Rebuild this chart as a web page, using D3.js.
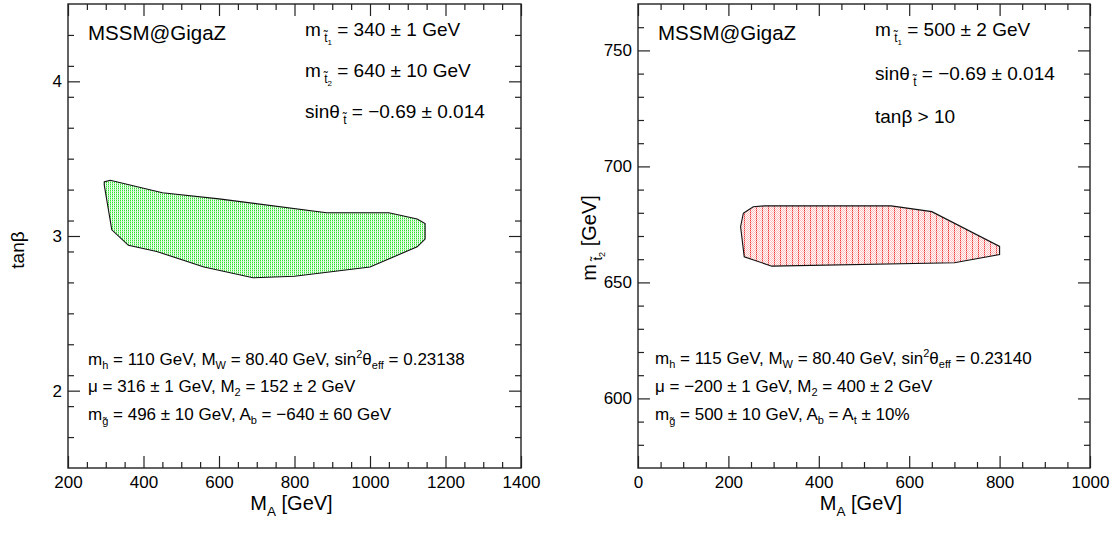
<!DOCTYPE html>
<html>
<head>
<meta charset="utf-8">
<script src="https://cdn.jsdelivr.net/npm/d3@7"></script>
<style>
  html, body { margin: 0; padding: 0; background: #fff; }
  svg { display: block; }
  text { font-family: "Liberation Sans", Arial, Helvetica, sans-serif; fill: #000; }
</style>
</head>
<body>
<svg id="chart" width="1118" height="533"></svg>
<script>
// ---------------- data ----------------
// Left panel: allowed region in (M_A, tan beta)
const greenMA   = [296, 312, 450, 600, 885, 1050, 1125, 1146, 1146, 1125, 1000, 800, 690, 560, 435, 360, 316, 296];
const greenTanb = [3.35, 3.36, 3.28, 3.24, 3.15, 3.15, 3.11, 3.08, 2.98, 2.93, 2.80, 2.74, 2.73, 2.80, 2.90, 2.94, 3.04, 3.33];
// Right panel: allowed region in (M_A, m_stop2)
const redMA   = [233, 255, 281, 560, 650, 800, 800, 700, 296, 235, 227];
const redMst2 = [679.8, 682.6, 683, 683, 680.5, 665.5, 662, 658.5, 657, 661, 674];

const leftXDomain = [200, 1400];
const leftYDomain = [1.5, 4.5];
const leftXMajor = [200, 400, 600, 800, 1000, 1200, 1400];
const leftYMajor = [2, 3, 4];
const rightXDomain = [0, 1000];
const rightYDomain = [570, 770];
const rightXMajor = [0, 200, 400, 600, 800, 1000];
const rightYMajor = [600, 650, 700, 750];

// ---------------- layout ----------------
const svg = d3.select("#chart");
const defs = svg.append("defs");

// green dotted fill
const pg = defs.append("pattern").attr("id", "greenFill").attr("patternUnits", "userSpaceOnUse")
  .attr("width", 2).attr("height", 2);
pg.append("rect").attr("width", 2).attr("height", 2).attr("fill", "#ffffff");
pg.append("rect").attr("x", 0).attr("y", 0).attr("width", 1).attr("height", 1).attr("fill", "#30e030");
pg.append("rect").attr("x", 0).attr("y", 1).attr("width", 1).attr("height", 1).attr("fill", "#a0f4a0");
pg.append("rect").attr("x", 1).attr("y", 1).attr("width", 1).attr("height", 1).attr("fill", "#e0fce0");

// red dotted / striped fill
const pr = defs.append("pattern").attr("id", "redFill").attr("patternUnits", "userSpaceOnUse")
  .attr("width", 6).attr("height", 2);
pr.append("rect").attr("width", 6).attr("height", 2).attr("fill", "#ffffff");
pr.append("rect").attr("x", 0).attr("y", 0).attr("width", 1).attr("height", 1).attr("fill", "#f03a3a");
pr.append("rect").attr("x", 0).attr("y", 1).attr("width", 1).attr("height", 1).attr("fill", "#ffb0b0");
[[2,0],[4,0],[1,1],[3,1],[5,1]].forEach(([x,y]) =>
  pr.append("rect").attr("x", x).attr("y", y).attr("width", 1).attr("height", 1).attr("fill", "#ffbcbc"));

function richText(g, x, y, segs, opts = {}) {
  const t = g.append("text").attr("x", x).attr("y", y);
  if (opts.transform) t.attr("transform", opts.transform);
  if (opts.anchor) t.attr("text-anchor", opts.anchor);
  segs.forEach(s => {
    const ts = t.append("tspan").text(s.t).style("font-size", s.size + "px");
    if (s.dy) ts.attr("dy", s.dy);
  });
  return t;
}

function panel(cfg) {
  const g = svg.append("g");
  const x = d3.scaleLinear().domain(cfg.xDomain).range([cfg.left, cfg.right]);
  const y = d3.scaleLinear().domain(cfg.yDomain).range([cfg.bottom, cfg.top]);
  const W = cfg.right - cfg.left, H = cfg.bottom - cfg.top;

  // region
  const line = d3.line().x(d => x(d[0])).y(d => y(d[1])).curve(d3.curveLinearClosed);
  g.append("path").datum(cfg.region).attr("d", line)
    .attr("fill", cfg.fill).attr("stroke", "#111").attr("stroke-width", 1.1);

  const xMinor = d3.range(cfg.xDomain[0], cfg.xDomain[1] + 1e-9, cfg.xMinorStep).filter(v => !cfg.xMajor.includes(v));
  const yMinor = d3.range(cfg.yDomain[0], cfg.yDomain[1] + 1e-9, cfg.yMinorStep)
      .map(v => +v.toFixed(4))
      .filter(v => !cfg.yMajor.includes(v) && v > cfg.yDomain[0] && v < cfg.yDomain[1]);
  const major = 12, minor = 6;
  const style = sel => { sel.select(".domain").remove(); sel.selectAll("line").attr("stroke", "#222").attr("stroke-width", 1.2);
                         sel.selectAll("text").style("font-size", "17px").attr("fill", "#000"); };

  // bottom
  g.append("g").attr("transform", `translate(0,${cfg.bottom})`)
    .call(d3.axisBottom(x).tickValues(cfg.xMajor).tickSize(-major).tickPadding(8 + major).tickFormat(d3.format("d"))).call(style)
    .selectAll("text").attr("y", 8);
  g.append("g").attr("transform", `translate(0,${cfg.bottom})`)
    .call(d3.axisBottom(x).tickValues(xMinor).tickSize(-minor).tickFormat("")).call(style);
  // top
  g.append("g").attr("transform", `translate(0,${cfg.top})`)
    .call(d3.axisTop(x).tickValues(cfg.xMajor).tickSize(-major).tickFormat("")).call(style);
  g.append("g").attr("transform", `translate(0,${cfg.top})`)
    .call(d3.axisTop(x).tickValues(xMinor).tickSize(-minor).tickFormat("")).call(style);
  // left
  const la = g.append("g").attr("transform", `translate(${cfg.left},0)`)
    .call(d3.axisLeft(y).tickValues(cfg.yMajor).tickSize(-major).tickFormat(d3.format("d"))).call(style);
  la.selectAll("text").attr("x", -6);
  g.append("g").attr("transform", `translate(${cfg.left},0)`)
    .call(d3.axisLeft(y).tickValues(yMinor).tickSize(-minor).tickFormat("")).call(style);
  // right
  g.append("g").attr("transform", `translate(${cfg.right},0)`)
    .call(d3.axisRight(y).tickValues(cfg.yMajor).tickSize(-major).tickFormat("")).call(style);
  g.append("g").attr("transform", `translate(${cfg.right},0)`)
    .call(d3.axisRight(y).tickValues(yMinor).tickSize(-minor).tickFormat("")).call(style);

  // frame
  g.append("rect").attr("x", cfg.left).attr("y", cfg.top).attr("width", W).attr("height", H)
    .attr("fill", "none").attr("stroke", "#222").attr("stroke-width", 1.4);

  // x title
  richText(g, (cfg.left + cfg.right) / 2 - 3, cfg.xTitleY, [
    {t: "M", size: 20}, {t: "A", size: 13.5, dy: 6}, {t: " [GeV]", size: 20, dy: -6}
  ], {anchor: "middle"});
  return g;
}

const S = 17, s = 11;

// ---------------- left panel ----------------
const L = panel({
  left: 68, right: 521, top: 4, bottom: 468,
  xDomain: leftXDomain, yDomain: leftYDomain, xMajor: leftXMajor, yMajor: leftYMajor,
  xMinorStep: 50, yMinorStep: 0.2,
  region: greenMA.map((m, i) => [m, greenTanb[i]]), fill: "url(#greenFill)",
  xTitleY: 510
});
L.append("text").attr("x", 88).attr("y", 40).style("font-size", "20.5px").text("MSSM@GigaZ");
L.append("text").attr("transform", "translate(24,250) rotate(-90)").attr("text-anchor", "middle")
  .style("font-size", "19px").text("tanβ");
richText(L, 305, 36, [{t: "m", size: 19}, {t: " t\u0303", size: 12, dy: 6}, {t: "1", size: 8, dy: 3}, {t: " = 340 ± 1 GeV", size: 19, dy: -9}]);
richText(L, 305, 77, [{t: "m", size: 19}, {t: " t\u0303", size: 12, dy: 6}, {t: "2", size: 8, dy: 3}, {t: " = 640 ± 10 GeV", size: 19, dy: -9}]);
richText(L, 305, 118, [{t: "sinθ", size: 19}, {t: " t\u0303", size: 12, dy: 6}, {t: " = −0.69 ± 0.014", size: 19, dy: -6}]);

richText(L, 88, 365, [{t: "m", size: S}, {t: "h", size: s, dy: 4}, {t: " = 110 GeV, M", size: S, dy: -4},
  {t: "W", size: s, dy: 4}, {t: " = 80.40 GeV, sin", size: S, dy: -4}, {t: "2", size: s, dy: -7},
  {t: "θ", size: S, dy: 7}, {t: "eff", size: s, dy: 4}, {t: " = 0.23138", size: S, dy: -4}]);
richText(L, 88, 392, [{t: "μ = 316 ± 1 GeV, M", size: S}, {t: "2", size: s, dy: 4}, {t: " = 152 ± 2 GeV", size: S, dy: -4}]);
richText(L, 88, 420, [{t: "m", size: S}, {t: "g\u0303", size: s, dy: 5}, {t: " = 496 ± 10 GeV, A", size: S, dy: -5},
  {t: "b", size: s, dy: 4}, {t: " = −640 ± 60 GeV", size: S, dy: -4}]);

// ---------------- right panel ----------------
const R = panel({
  left: 638, right: 1090, top: 4, bottom: 468,
  xDomain: rightXDomain, yDomain: rightYDomain, xMajor: rightXMajor, yMajor: rightYMajor,
  xMinorStep: 50, yMinorStep: 10,
  region: redMA.map((m, i) => [m, redMst2[i]]), fill: "url(#redFill)",
  xTitleY: 510
});
R.append("text").attr("x", 658).attr("y", 40).style("font-size", "20.5px").text("MSSM@GigaZ");
richText(R, 0, 0, [{t: "m", size: 20}, {t: " t\u0303", size: 13, dy: 6}, {t: "2", size: 9, dy: 3}, {t: " [GeV]", size: 20, dy: -9}],
  {transform: "translate(596,238) rotate(-90)", anchor: "middle"});
richText(R, 875, 36, [{t: "m", size: 19}, {t: " t\u0303", size: 12, dy: 6}, {t: "1", size: 8, dy: 3}, {t: " = 500 ± 2 GeV", size: 19, dy: -9}]);
richText(R, 875, 80, [{t: "sinθ", size: 19}, {t: " t\u0303", size: 12, dy: 6}, {t: " = −0.69 ± 0.014", size: 19, dy: -6}]);
R.append("text").attr("x", 875).attr("y", 123).style("font-size", "19px").text("tanβ > 10");

richText(R, 655, 364, [{t: "m", size: S}, {t: "h", size: s, dy: 4}, {t: " = 115 GeV, M", size: S, dy: -4},
  {t: "W", size: s, dy: 4}, {t: " = 80.40 GeV, sin", size: S, dy: -4}, {t: "2", size: s, dy: -7},
  {t: "θ", size: S, dy: 7}, {t: "eff", size: s, dy: 4}, {t: " = 0.23140", size: S, dy: -4}]);
richText(R, 655, 392, [{t: "μ = −200 ± 1 GeV, M", size: S}, {t: "2", size: s, dy: 4}, {t: " = 400 ± 2 GeV", size: S, dy: -4}]);
richText(R, 655, 420, [{t: "m", size: S}, {t: "g\u0303", size: s, dy: 5}, {t: " = 500 ± 10 GeV, A", size: S, dy: -5},
  {t: "b", size: s, dy: 4}, {t: " = A", size: S, dy: -4}, {t: "t", size: s, dy: 4}, {t: " ± 10%", size: S, dy: -4}]);
</script>
</body>
</html>
